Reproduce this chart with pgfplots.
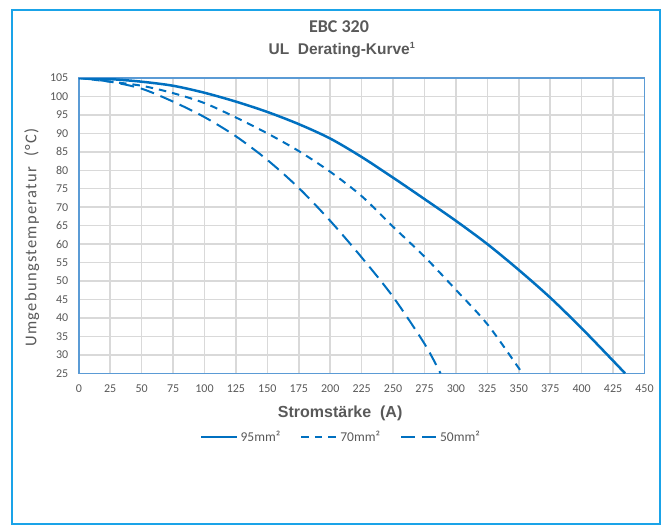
\documentclass[border=0pt]{standalone}
\usepackage{pgfplots}
\pgfplotsset{compat=1.18}
\usepackage{fontspec}
\setmainfont{Carlito}
\newfontfamily\arialfont{Liberation Sans}
\definecolor{curve}{HTML}{0070C0}
\definecolor{framebl}{HTML}{1AA3E8}
\definecolor{axbl}{HTML}{5B9BD5}
\definecolor{txt}{HTML}{595959}
\definecolor{gridc}{HTML}{D9D9D9}
\begin{document}
\begin{tikzpicture}[x=1pt,y=1pt]
\path (0,0) rectangle (669,529);
\draw[framebl, line width=2pt] (12,5) rectangle (660,519);
\node[txt, font=\fontsize{18}{20}\selectfont\bfseries] at (339,502) {EBC 320};
\node[txt, font=\arialfont\fontsize{15.5}{17}\selectfont\bfseries] at (342,479) {UL\ \ Derating-Kurve\textsuperscript{\fontsize{9}{9}\selectfont 1}};
\begin{axis}[
  at={(78.8pt,155.7pt)}, anchor=south west,
  scale only axis, width=565.7pt, height=295.3pt,
  xmin=0, xmax=450, ymin=25, ymax=105,
  xtick distance=25, ytick distance=5,
  major tick length=0pt,
  grid=major,
  major grid style={gridc, line width=1.5pt},
  axis line style={axbl, line width=1.5pt},
  tick label style={txt, font=\fontsize{12}{13}\selectfont},
  /pgf/number format/assume math mode=true,
  xticklabel style={yshift=-8pt},
  yticklabel style={xshift=-7pt},
  xlabel={\arialfont\bfseries Stromstärke\ \ (A)},
  xlabel style={txt, font=\fontsize{16}{18}\selectfont, at={(axis description cs:0.462,-0.134)}, anchor=center},
  ylabel={\addfontfeature{LetterSpace=8}Umgebungstemperatur\ \ (°C)},
  ylabel style={txt, font=\fontsize{16.5}{18}\selectfont, at={(axis description cs:-0.083,0.46)}, anchor=center},
  legend columns=3,
  legend style={draw=none, fill=none, at={(0.4635,-0.216)}, anchor=center,
    font=\fontsize{13.5}{15}\selectfont\color{txt},
    /tikz/every even column/.append style={column sep=18pt}},
  legend image code/.code={\draw[#1] (0pt,0pt) -- (36pt,0pt);},
]
\addplot[curve, line width=2.5pt, smooth] coordinates {
(0,105) (25,104.7) (50,104) (75,102.9) (100,101) (125,98.6) (150,95.8) (175,92.5)
(200,88.6) (225,83.6) (250,78) (275,72.2) (300,66.3) (325,60) (350,53) (375,45.5)
(400,37.2) (425,28.4) (434.5,25)};
\addlegendentry{95mm²}
\addplot[curve, line width=2pt, smooth, dash pattern=on 7.5pt off 6pt] coordinates {
(0,105) (25,104) (50,102.9) (75,100.9) (100,98.2) (125,94.3) (150,90) (175,85.2)
(200,79.6) (225,73) (250,64.7) (275,56.6) (300,47.6) (325,38.3) (350,26.4) (352.5,25)};
\addlegendentry{70mm²}
\addplot[curve, line width=2pt, smooth, dash pattern=on 14pt off 7pt] coordinates {
(0,105) (25,104) (50,102.1) (75,98.6) (100,94.4) (125,89.2) (150,82.8) (175,75.2)
(200,66.3) (225,56.4) (250,45.7) (275,33) (287.7,25)};
\addlegendentry{50mm²}
\end{axis}
\end{tikzpicture}
\end{document}
